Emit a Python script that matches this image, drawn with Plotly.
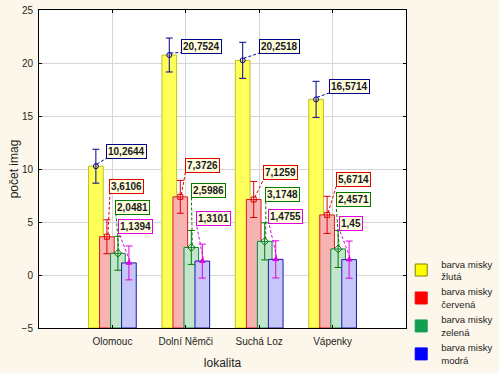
import plotly.graph_objects as go

categories = ["Olomouc", "Dolní Němči", "Suchá Loz", "Vápenky"]
series_names = ["barva misky<br>žlutá", "barva misky<br>červená", "barva misky<br>zelená", "barva misky<br>modrá"]
yellow = [10.2644, 20.7524, 20.2518, 16.5714]
red = [3.6106, 7.3726, 7.1259, 5.6714]
green = [2.0481, 2.5986, 3.1748, 2.4571]
blue = [1.1394, 1.3101, 1.4755, 1.45]
yellow_err = [1.6, 1.6, 1.7, 1.7]
red_err = [1.6, 1.55, 1.7, 1.75]
green_err = [1.6, 1.6, 1.75, 1.75]
blue_err = [1.6, 1.6, 1.75, 1.75]
y_ticks = [-5, 0, 5, 10, 15, 20, 25]

values = [yellow, red, green, blue]
errors = [yellow_err, red_err, green_err, blue_err]

# styles
BASE = -5
BAR_W = 0.2
offsets = [-0.325, -0.175, -0.025, 0.125]
fills = ["#ffff5a", "#f7b2b2", "#c2e6cc", "#c6c6f8"]
edges = ["#c0c020", "#e01818", "#108040", "#1818a8"]
legend_cols = ["#ffff00", "#ff0000", "#10a050", "#0000ff"]
mark_cols = ["#000090", "#e00000", "#007a00", "#e000e0"]
symbols = ["circle-open", "square-open", "diamond-open", "triangle-up"]
# label offsets (px, screen coords: right, down) from the marker to the label centre
label_dx = [[31, 32, 37, 33], [20, 22, 27, 26], [15, 17, 18, 15], [7, 11, 10, 2]]
label_dy = [[-15, -9, -14, -13], [-50, -31, -27, -35], [-46, -57, -47, -49], [-36, -43, -43, -36]]

FONT = "Liberation Sans, Arial, sans-serif"
fig = go.Figure()
idx = list(range(len(categories)))

for s in range(4):
    fig.add_trace(go.Bar(
        x=idx, y=[v - BASE for v in values[s]], base=BASE,
        offset=offsets[s], width=BAR_W,
        marker=dict(color=fills[s], line=dict(color=edges[s], width=1)),
        showlegend=False, hoverinfo="skip"))

for s in range(4):
    cx = [i + offsets[s] + BAR_W / 2 for i in idx]
    fig.add_trace(go.Scatter(
        x=cx, y=values[s], mode="markers",
        marker=dict(symbol=symbols[s], size=5 if s != 2 else 6, color=mark_cols[s],
                    line=dict(color=mark_cols[s], width=1)),
        error_y=dict(type="data", array=errors[s], color=mark_cols[s], thickness=1, width=3.5),
        showlegend=False))
    for i in idx:
        v = values[s][i]
        txt = str(v).replace(".", ",")
        dx, dy = label_dx[s][i], label_dy[s][i]
        fig.add_annotation(x=cx[i], y=v, xref="x", yref="y", text="<b>" + txt + "</b>",
                           showarrow=False, xshift=dx, yshift=-dy,
                           font=dict(family=FONT, size=10, color="#1a1a1a"),
                           bgcolor="#ffffe0", bordercolor=mark_cols[s], borderwidth=1, borderpad=1)
        bw = len(txt) * 5.3 + 6
        bh = 13
        ex, ey = dx - bw / 2 + 2, dy + bh / 2
        fig.add_shape(type="line", xref="x", yref="y", xsizemode="pixel", ysizemode="pixel",
                      xanchor=cx[i], yanchor=v, x0=1, y0=2, x1=ex, y1=-ey,
                      line=dict(color=mark_cols[s], width=1, dash="3px,2px"), layer="above")

for s in range(4):
    fig.add_trace(go.Bar(x=[None], y=[None], name=series_names[s],
                         marker=dict(color=legend_cols[s], line=dict(color="#808000" if s == 0 else legend_cols[s], width=1)),
                         showlegend=True))

fig.update_layout(
    width=499, height=373,
    barmode="overlay",
    paper_bgcolor="#fcf7ea", plot_bgcolor="#ffffff",
    margin=dict(l=39, r=93, t=10, b=45, autoexpand=False),
    font=dict(family=FONT, size=10, color="#1e1e1e"),
    legend=dict(xref="container", yref="container", x=0.804, y=0.327, xanchor="left", yanchor="top",
                bgcolor="rgba(0,0,0,0)", font=dict(size=9.6), tracegroupgap=0, itemwidth=30),
    xaxis=dict(range=[-1, 4], tickvals=idx, ticktext=categories, showgrid=True, gridcolor="#d6d6d6",
               zeroline=False, showline=True, linecolor="#000000", linewidth=1, mirror="ticks",
               ticks="inside", ticklen=3, tickcolor="#000000", automargin=False, ticklabelstandoff=4,
               title=dict(text="lokalita", standoff=12)),
    yaxis=dict(range=[-5, 25], tickvals=y_ticks, showgrid=True, gridcolor="#d6d6d6",
               zeroline=False, showline=True, linecolor="#000000", linewidth=1, mirror="ticks",
               ticks="inside", ticklen=3, tickcolor="#000000", automargin=False, ticklabelstandoff=3,
               title=dict(text="počet imag", standoff=0)),
)

fig.write_html("out.html", config={"displayModeBar": False},
               post_script="document.body.style.margin='0';document.body.style.background='#fcf7ea';")
